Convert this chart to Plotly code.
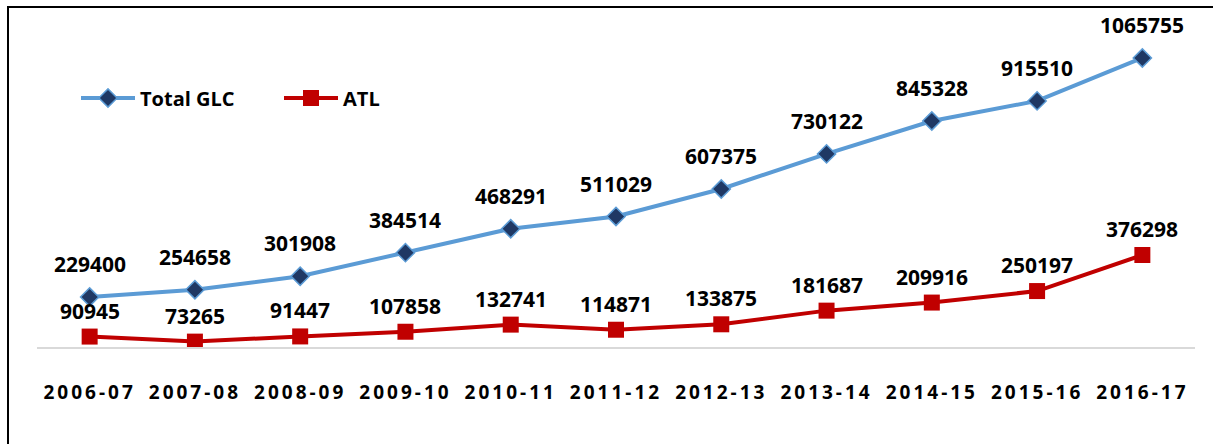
import plotly.graph_objects as go

years = ["2006-07", "2007-08", "2008-09", "2009-10", "2010-11", "2011-12",
         "2012-13", "2013-14", "2014-15", "2015-16", "2016-17"]
total_glc = [229400, 254658, 301908, 384514, 468291, 511029,
             607375, 730122, 845328, 915510, 1065755]
atl = [90945, 73265, 91447, 107858, 132741, 114871,
       133875, 181687, 209916, 250197, 376298]

FONT = "Open Sans"
W, H = 1219, 444
ML, MR, MT, MB = 37, 24, 20, 97
PW, PH = W - ML - MR, H - MT - MB

fig = go.Figure()
fig.add_trace(go.Scatter(
    x=years, y=total_glc, name="Total GLC", mode="lines+markers",
    line=dict(color="#5B9BD5", width=4),
    marker=dict(symbol="diamond", size=14, color="#1F3864",
                line=dict(color="#5B9BD5", width=1.5)),
))
fig.add_trace(go.Scatter(
    x=years, y=atl, name="ATL", mode="lines+markers",
    line=dict(color="#C00000", width=4),
    marker=dict(symbol="square", size=16, color="#C00000",
                line=dict(color="#C00000", width=0)),
))

annotations = []
for yr, v in zip(years, total_glc):
    annotations.append(dict(x=yr, y=v, xref="x", yref="y", text=str(v),
                            showarrow=False, yshift=33, yanchor="middle",
                            font=dict(family=FONT, size=21, color="#000000", weight="bold")))
for yr, v in zip(years, atl):
    annotations.append(dict(x=yr, y=v, xref="x", yref="y", text=str(v),
                            showarrow=False, yshift=26, yanchor="middle",
                            font=dict(family=FONT, size=21, color="#000000", weight="bold")))

def px_x(px):
    return (px - ML) / PW

def px_y(py):
    return (H - MB - py) / PH

shapes = [
    dict(type="line", xref="paper", yref="paper", x0=px_x(8), x1=px_x(8),
         y0=px_y(446), y1=px_y(7), line=dict(color="#000000", width=2)),
    dict(type="line", xref="paper", yref="paper", x0=px_x(7), x1=px_x(1213),
         y0=px_y(7), y1=px_y(7), line=dict(color="#000000", width=2)),
]

fig.update_layout(
    width=W, height=H,
    margin=dict(l=ML, r=MR, t=MT, b=MB),
    paper_bgcolor="white", plot_bgcolor="white",
    showlegend=True,
    legend=dict(orientation="h", x=px_x(76), y=px_y(98), xanchor="left", yanchor="middle",
                font=dict(family=FONT, size=20, color="#000000", weight="bold"),
                bgcolor="rgba(0,0,0,0)", itemwidth=54,
                entrywidth=134, entrywidthmode="pixels"),
    xaxis=dict(type="category", range=[-0.5, len(years) - 0.5], showgrid=False,
               showline=True, linecolor="#D9D9D9", linewidth=2, ticks="",
               ticklabelstandoff=27,
               tickfont=dict(family=FONT, size=19, color="#000000", weight="bold"),
               zeroline=False, fixedrange=True),
    yaxis=dict(range=[54450, 1198600], visible=False, showgrid=False,
               zeroline=False, fixedrange=True),
    annotations=annotations,
    shapes=shapes,
)

post = """
document.body.style.margin = '0';
var fixTicks = function(){
  document.querySelectorAll('.xtick text').forEach(function(t){ t.style.letterSpacing='3px'; });
};
fixTicks();
var gd = document.getElementsByClassName('plotly-graph-div')[0];
if (gd && gd.on) { gd.on('plotly_afterplot', fixTicks); }
"""

fig.write_html("out.html", config={"displayModeBar": False, "responsive": False},
               post_script=post)
